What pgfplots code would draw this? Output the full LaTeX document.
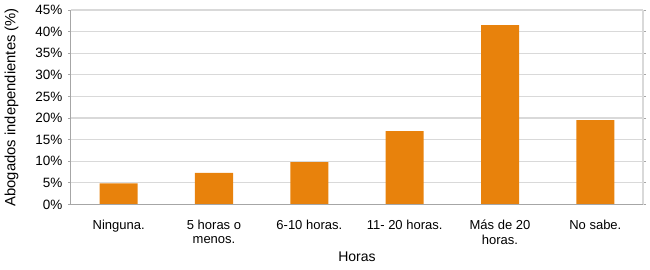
\documentclass[border=0pt]{standalone}
\usepackage{pgfplots}
\pgfplotsset{compat=1.18}
\usepackage{fontspec}
\setmainfont{Liberation Sans}
\definecolor{barorange}{HTML}{E8820C}
\definecolor{gridgray}{HTML}{D9D9D9}
\definecolor{axgray}{HTML}{A6A6A6}
\begin{document}
\begin{tikzpicture}
\begin{axis}[
  scale only axis,
  width=572pt, height=194.5pt,
  at={(0,0)}, anchor=south west,
  ymin=0, ymax=45,
  ytick={0,5,...,45},
  yticklabel={\pgfmathprintnumber{\tick}\%},
  xmin=-0.5, xmax=5.5,
  xtick={0,1,2,3,4,5},
  xticklabels={Ninguna.,{5 horas o\\menos.},6-10 horas.,11- 20 horas.,{Más de 20\\horas.},No sabe.},
  xticklabel style={align=center, font=\fontsize{13}{14.5}\selectfont, text depth=0pt, yshift=-9pt},
  yticklabel style={font=\fontsize{13.5}{14}\selectfont, xshift=-2pt},
  /pgf/number format/assume math mode=true,
  ymajorgrids,
  grid style={gridgray, line width=1.2pt},
  axis line style={draw=none},
  y tick style={axgray, line width=0.8pt},
  major tick length=3pt,
  tick align=outside,
  x tick style={draw=none},
  ylabel={Abogados independientes (\%)},
  ylabel style={font=\fontsize{14.8}{16}\selectfont, at={(axis description cs:0,0.5)}, anchor=south, rotate=0, yshift=49pt},
  xlabel={Horas},
  xlabel style={font=\fontsize{14}{16}\selectfont, at={(axis description cs:0.5,0)}, anchor=base, yshift=-57pt},
  clip=false,
]
\addplot[ybar, bar width=38pt, fill=barorange, draw=none] coordinates {
  (0,4.9) (1,7.3) (2,9.8) (3,17.0) (4,41.5) (5,19.55)
};
\draw[gridgray, line width=1.2pt] (axis cs:5.5,0) -- (axis cs:5.5,45);
\draw[axgray, line width=1pt] (axis cs:-0.5,0) -- (axis cs:-0.5,45);
\draw[axgray, line width=1.2pt] (axis cs:-0.5,0) -- (axis cs:5.5,0);
\end{axis}
\pgfresetboundingbox
\useasboundingbox (-71pt,-64.5pt) rectangle (579pt,204.5pt);
\end{tikzpicture}
\end{document}
